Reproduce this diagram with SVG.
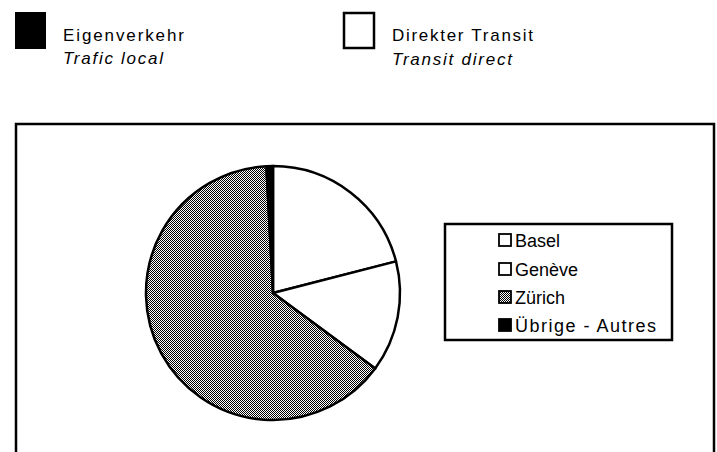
<svg xmlns="http://www.w3.org/2000/svg" width="717" height="452" viewBox="0 0 717 452">
  <defs>
    <pattern id="dither" patternUnits="userSpaceOnUse" width="2" height="2">
      <rect width="2" height="2" fill="#fff"/>
      <rect x="0" y="0" width="1" height="1" fill="#000"/>
      <rect x="1" y="1" width="1" height="1" fill="#000"/>
    </pattern>
  </defs>
  <style>
    .t { font-family: "Liberation Sans", Arial, sans-serif; font-size: 17px; fill: #000; }
    .i { font-style: italic; }
    .lg { font-family: "Liberation Sans", Arial, sans-serif; font-size: 18px; fill: #000; }
    .slice { stroke: #000; stroke-width: 2.5; stroke-linejoin: round; }
    .sw { stroke: #000; stroke-width: 1.8; }
  </style>
  <rect width="717" height="452" fill="#fff"/>

  <g id="key-local">
    <rect x="15" y="12" width="31" height="37" fill="#000"/>
    <text class="t" x="63" y="41" textLength="121" lengthAdjust="spacing">Eigenverkehr</text>
    <text class="t i" x="63" y="64" textLength="100" lengthAdjust="spacing">Trafic local</text>
  </g>
  <g id="key-transit">
    <rect x="344" y="13" width="30" height="35" fill="#fff" stroke="#000" stroke-width="2.5"/>
    <text class="t" x="392" y="41" textLength="141" lengthAdjust="spacing">Direkter Transit</text>
    <text class="t i" x="392" y="65" textLength="120" lengthAdjust="spacing">Transit direct</text>
  </g>

  <g id="frame">
    <rect x="16" y="124" width="698" height="340" fill="none" stroke="#000" stroke-width="2.5"/>
  </g>

  <g id="pie">
    <path id="basel" class="slice" fill="#fff" d="M273,293 L273,166 A127,127 0 0 1 396,261.4 Z"/>
    <path id="geneve" class="slice" fill="#fff" d="M273,293 L396,261.4 A127,127 0 0 1 375.2,368.4 Z"/>
    <path id="zurich" class="slice" fill="url(#dither)" d="M273,293 L375.2,368.4 A127,127 0 1 1 266.4,166.2 Z"/>
    <path id="uebrige" class="slice" fill="#000" d="M273,293 L266.4,166.2 A127,127 0 0 1 273,166 Z"/>
  </g>

  <g id="legend">
    <rect x="445" y="224" width="227" height="116" fill="#fff" stroke="#000" stroke-width="2.5"/>
    <rect class="sw" x="499" y="234" width="12" height="12" fill="#fff"/>
    <text class="lg" x="515" y="247">Basel</text>
    <rect class="sw" x="499" y="263" width="12" height="12" fill="#fff"/>
    <text class="lg" x="515" y="276">Genève</text>
    <rect class="sw" x="499" y="291" width="12" height="12" fill="url(#dither)"/>
    <text class="lg" x="515" y="304">Zürich</text>
    <rect class="sw" x="499" y="319" width="12" height="12" fill="#000"/>
    <text class="lg" x="515" y="332" textLength="141" lengthAdjust="spacing">Übrige - Autres</text>
  </g>
</svg>
